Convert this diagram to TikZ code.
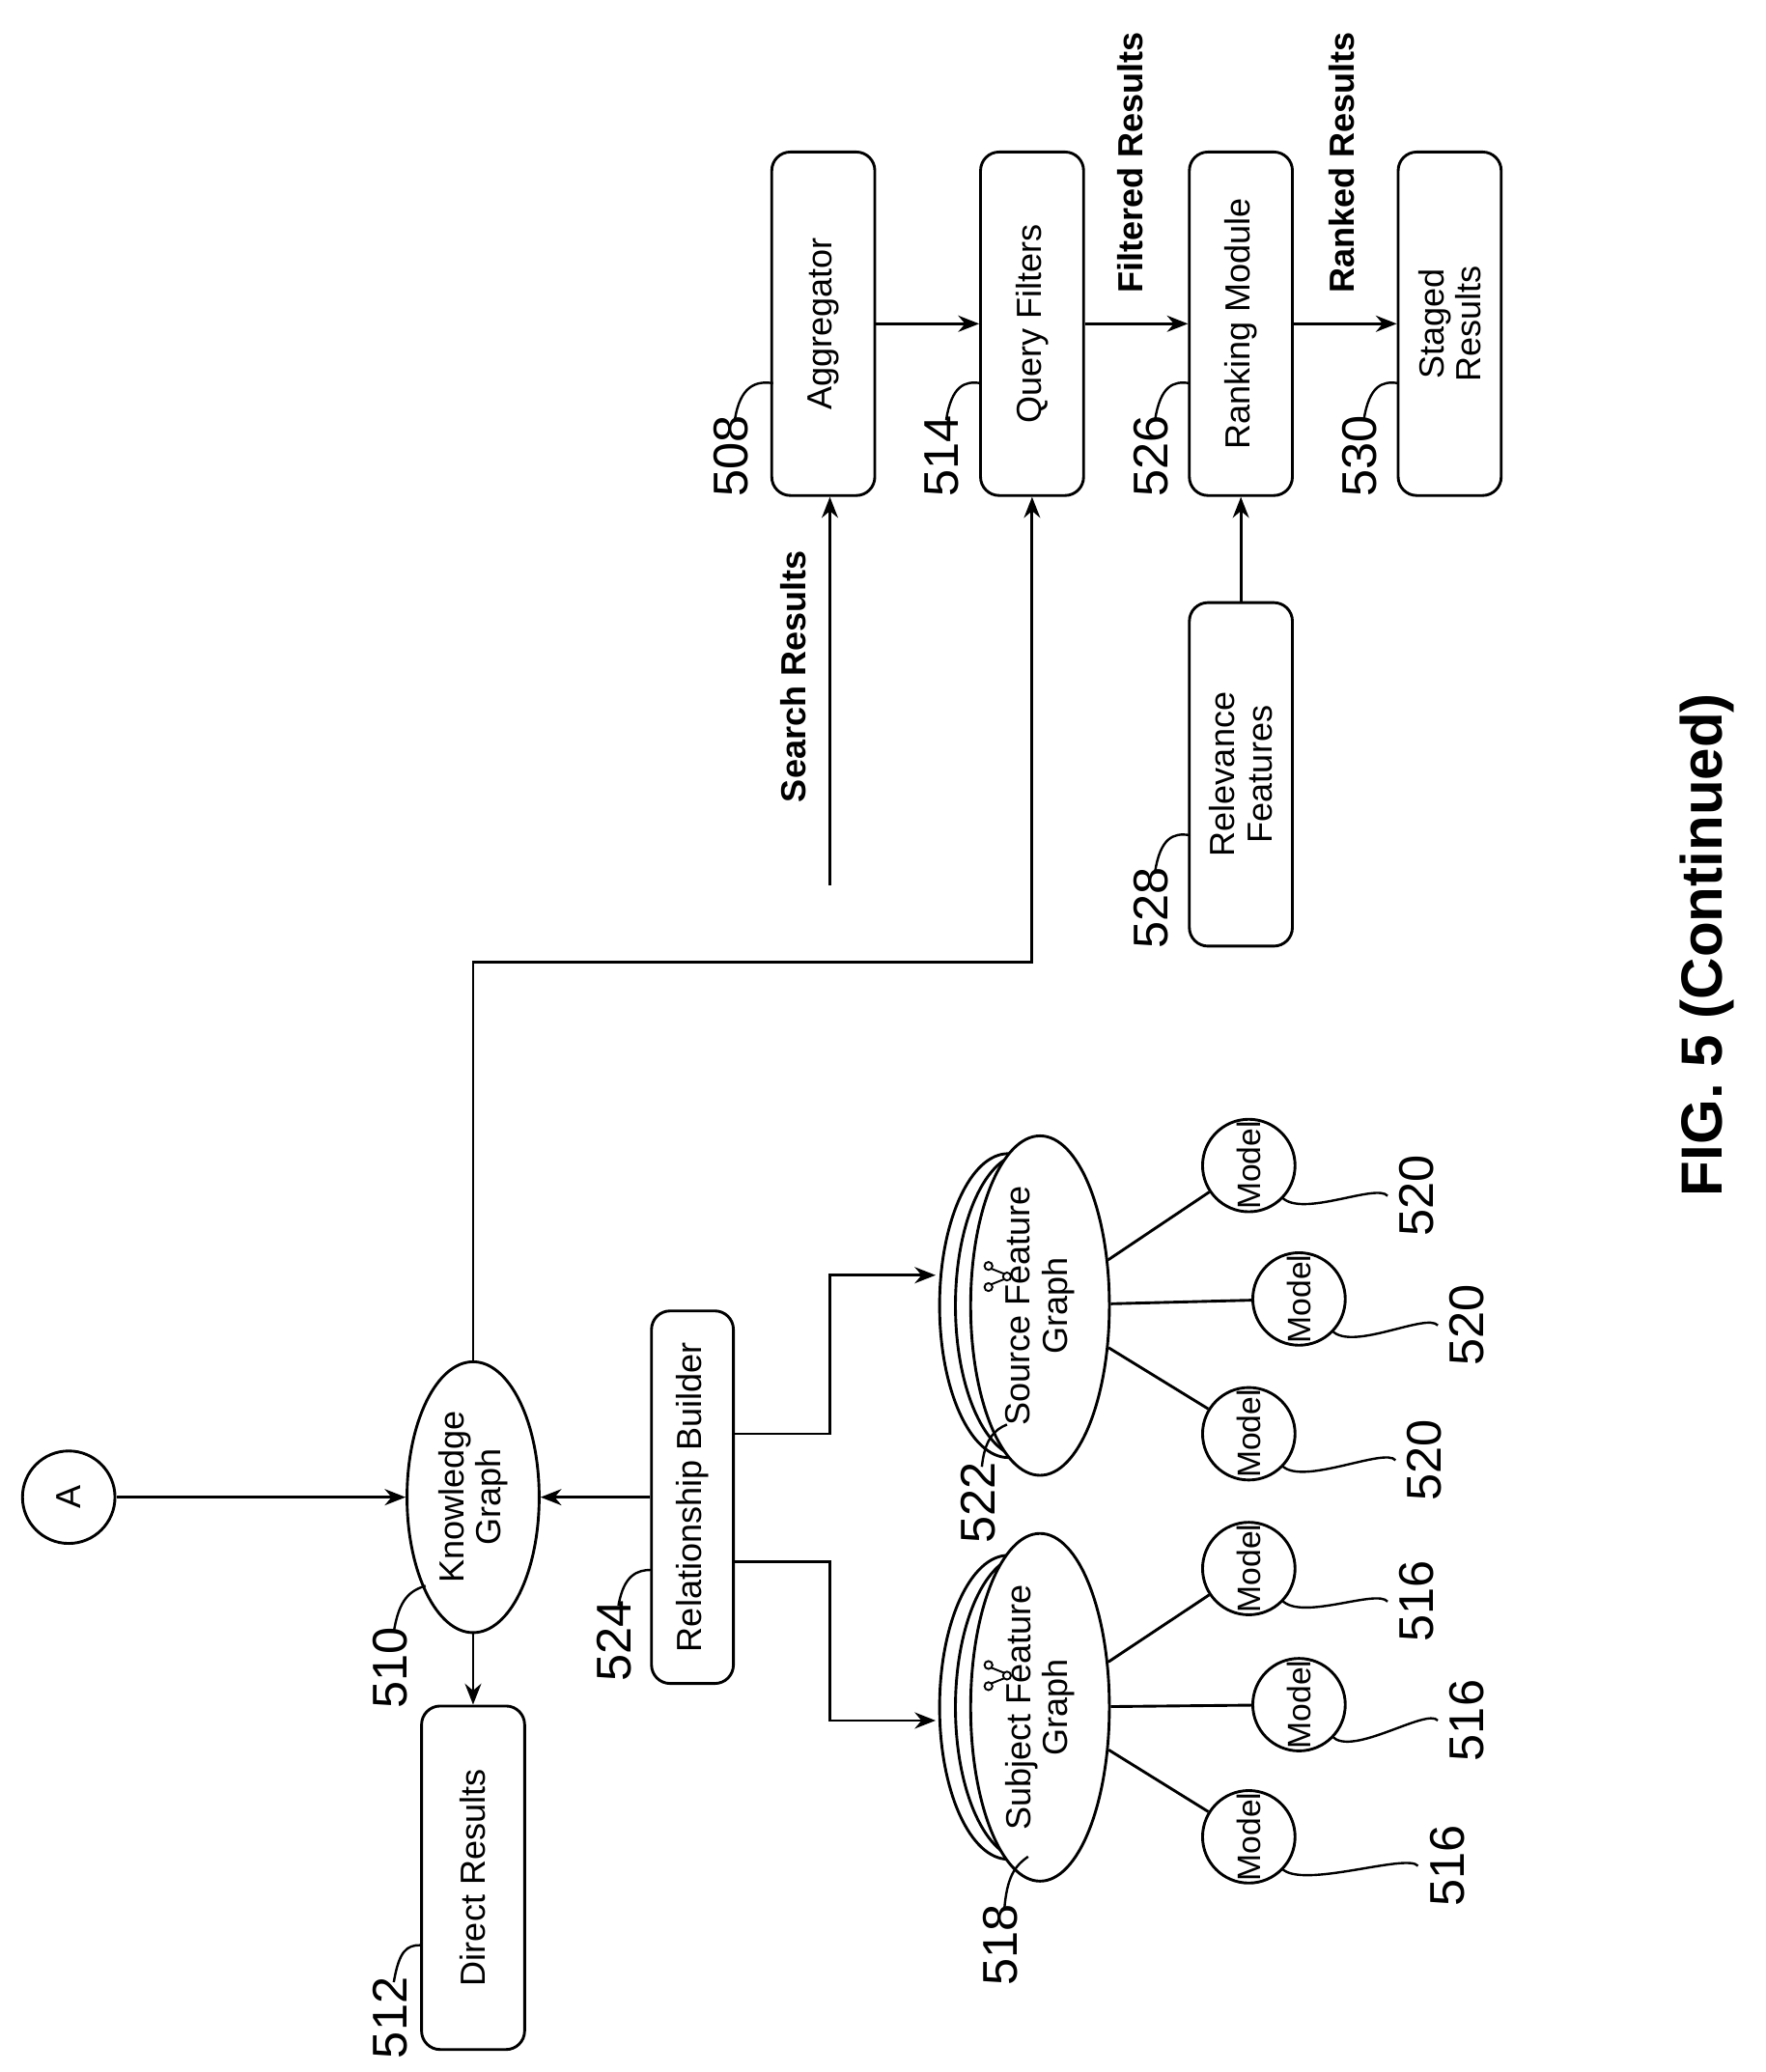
\documentclass[tikz,border=0pt]{standalone}
\usepackage{fontspec}
\setmainfont{Liberation Sans}
\usetikzlibrary{shapes.geometric,arrows.meta,calc}
\begin{document}
\begin{tikzpicture}[x=0.02cm,y=-0.02cm,
  box/.style={draw,line width=1.2pt,rounded corners=8pt,rotate=90,minimum width=5.2cm,minimum height=1.56cm,align=center,font=\fontsize{15}{16}\selectfont},
  ell/.style={draw,line width=1.2pt,ellipse,fill=white,rotate=90,minimum width=4.6cm,minimum height=2.1cm,align=center,inner sep=0pt,font=\fontsize{15}{16}\selectfont},
  mod/.style={draw,line width=1.2pt,circle,minimum size=1.4cm,inner sep=0pt,rotate=90,font=\fontsize{14}{15}\selectfont},
  lab/.style={rotate=90,font=\fontsize{21}{22}\selectfont},
  bl/.style={rotate=90,font=\bfseries\fontsize{15}{16}\selectfont},
  arr/.style={line width=1.2pt,-{Stealth[length=9pt,width=7pt]}},
  ln/.style={line width=1.2pt},
  ld/.style={line width=1pt}]
\useasboundingbox (0,0) rectangle (1336,1568);
% top row
\node[box] (agg) at (623,245) {Aggregator};
\node[box] (qf) at (781,245) {Query Filters};
\node[box] (rm) at (939,245) {Ranking Module};
\node[box] (sr) at (1097,245) {Staged\\Results};
\node[box] (rel) at (939,586) {Relevance\\Features};
\node[box] (dr) at (358,1421) {Direct Results};
\node[box,minimum width=5.64cm,minimum height=1.24cm] (rb) at (524,1133) {Relationship Builder};
\node[ell,minimum width=4.1cm,minimum height=2cm] (kg) at (358,1133) {Knowledge\\Graph};
\node[draw,circle,line width=1.2pt,minimum size=1.4cm,inner sep=0pt,rotate=90,font=\fontsize{15}{16}\selectfont] (A) at (52,1133) {A};
% stacked ellipses
\foreach \dx in {24,12}{
  \draw[ln,fill=white] (787-\dx,1292) ellipse [x radius=52,y radius=115];
  \draw[ln,fill=white] (787-\dx,988) ellipse [x radius=52,y radius=115];
}
\node[ell] (sfg) at (787,1292) {Subject Feature\\Graph};
\node[ell] (srcg) at (787,988) {Source Feature\\Graph};
% icons
\foreach \yy in {1268,966}{
  \draw[line width=0.8pt] (748,\yy+8) circle (3) (762,\yy) circle (3) (748,\yy-8) circle (3);
  \draw[line width=0.8pt] (750,\yy+6) -- (760,\yy+2) (760,\yy-2) -- (750,\yy-6);
}
% models
\node[mod] (m1) at (945,1390) {Model};
\node[mod] (m2) at (983,1290) {Model};
\node[mod] (m3) at (945,1187) {Model};
\node[mod] (m4) at (945,1085) {Model};
\node[mod] (m5) at (983,983) {Model};
\node[mod] (m6) at (945,882) {Model};
\draw[ln] (sfg) -- (m1) (sfg) -- (m2) (sfg) -- (m3);
\draw[ln] (srcg) -- (m4) (srcg) -- (m5) (srcg) -- (m6);
% arrows
\draw[arr] (A) -- (kg);
\draw[arr] (rb) -- (kg);
\draw[arr] (kg) -- (dr);
\draw[arr] (kg.east) -- (kg.east|-0,728) -| (qf.west);
\coordinate (s) at (628,670);
\draw[arr] (s) -- (s|-agg.west);
\node[bl] at (600,512) {Search Results};
\draw[arr] (agg) -- (qf);
\draw[arr] (qf) -- (rm);
\draw[arr] (rm) -- (sr);
\draw[arr] (rel) -- (rm);
\node[bl] at (855,123) {Filtered Results};
\node[bl] at (1015,123) {Ranked Results};
\coordinate (c1) at (708,965);
\coordinate (c2) at (708,1302);
\draw[arr] (rb.south|-0,1085) -| (628,965) -- (c1);
\draw[arr] (rb.south|-0,1182) -| (628,1302) -- (c2);
% labels
\node[lab] at (553,345) {508}; \draw[ld] (556,318) .. controls (560,292) and (572,288) .. (585,290);
\node[lab] at (713,345) {514}; \draw[ld] (716,318) .. controls (720,292) and (730,288) .. (742,290);
\node[lab] at (871,345) {526}; \draw[ld] (874,318) .. controls (878,292) and (888,288) .. (900,290);
\node[lab] at (1029,345) {530}; \draw[ld] (1032,318) .. controls (1036,292) and (1046,288) .. (1058,290);
\node[lab] at (871,687) {528}; \draw[ld] (874,660) .. controls (878,634) and (888,630) .. (900,632);
\node[lab] at (295,1262) {510}; \draw[ld] (298,1235) .. controls (302,1210) and (310,1204) .. (322,1200);
\node[lab] at (295,1527) {512}; \draw[ld] (298,1500) .. controls (302,1476) and (308,1472) .. (318,1472);
\node[lab] at (465,1242) {524}; \draw[ld] (468,1215) .. controls (472,1192) and (482,1188) .. (493,1188);
\node[lab] at (757,1472) {518}; \draw[ld] (760,1445) .. controls (762,1420) and (768,1412) .. (778,1405);
\node[lab] at (740,1137) {522}; \draw[ld] (743,1110) .. controls (745,1090) and (752,1082) .. (762,1078);
\foreach \mx/\my/\lx/\ly/\t in {945/1390/1095/1412/516,983/1290/1110/1302/516,945/1187/1072/1212/516,945/1085/1078/1105/520,983/983/1110/1003/520,945/882/1072/905/520}{
  \node[lab] at (\lx,\ly) {\t};
  \draw[ld] (\mx+25,\my+24) .. controls (\mx+40,\my+40) and (\lx-30,\ly-10) .. (\lx-22,\ly);
}
\node[rotate=90,font=\bfseries\fontsize{25}{26}\selectfont] at (1292,715) {FIG. 5 (Continued)};
\end{tikzpicture}
\end{document}
